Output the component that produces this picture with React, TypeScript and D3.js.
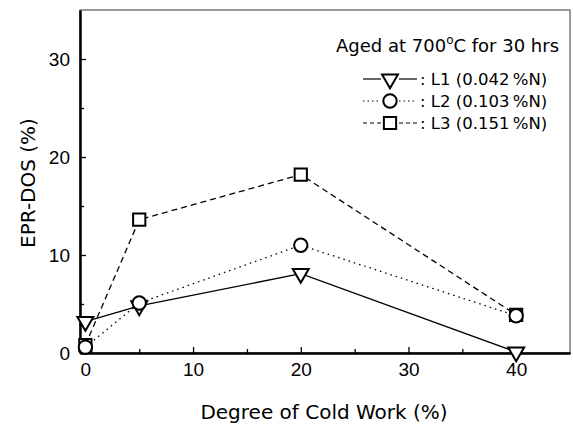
import * as d3 from "d3";
import { useEffect, useRef } from "react";

// cold work (%) and EPR-DOS (%)
const coldWork = [0, 5, 20, 40];
const dosL1 = [3.2, 4.8, 8.1, 0.1];
const dosL2 = [0.6, 5.1, 11.0, 3.8];
const dosL3 = [0.8, 13.6, 18.2, 3.9];

const seriesNames = ["L1 (0.042\u2009%N)", "L2 (0.103\u2009%N)", "L3 (0.151\u2009%N)"];
const xTicks = [0, 10, 20, 30, 40];
const yTicks = [0, 10, 20, 30];

const W = 573;
const H = 426;
const margin = { top: 10, right: 3, bottom: 73, left: 80 };

const App = () => {
  const ref = useRef<SVGSVGElement>(null);

  useEffect(() => {
    const svg = d3.select(ref.current);
    svg.selectAll("*").remove();

    const x = d3.scaleLinear().domain([-0.5, 45]).range([margin.left, W - margin.right]);
    const y = d3.scaleLinear().domain([0, 35]).range([H - margin.bottom, margin.top]);

    const numFont = "'Liberation Sans', Arial, sans-serif";
    const txtFont = "'DejaVu Sans', Verdana, sans-serif";

    // frame: top/right thin
    svg.append("rect")
      .attr("x", x(-0.5)).attr("y", y(35))
      .attr("width", x(45) - x(-0.5)).attr("height", y(0) - y(35))
      .attr("fill", "none").attr("stroke", "#333").attr("stroke-width", 1);

    // x axis (ticks inward)
    const xAxis = svg.append("g").attr("transform", `translate(0,${y(0)})`)
      .call(d3.axisBottom(x).tickValues(xTicks).tickSize(-6).tickSizeOuter(0).tickPadding(10));
    xAxis.append("g")
      .call(d3.axisBottom(x).tickValues([5, 15, 25, 35]).tickSize(-4).tickSizeOuter(0).tickFormat(() => ""));
    xAxis.selectAll(".domain").attr("stroke", "#000").attr("stroke-width", 2);
    xAxis.selectAll("line").attr("stroke-width", 1.3);
    xAxis.selectAll("text").attr("font-family", numFont).attr("font-size", 19).attr("fill", "#000");

    const yAxis = svg.append("g").attr("transform", `translate(${x(-0.5)},0)`)
      .call(d3.axisLeft(y).tickValues(yTicks).tickSize(-6).tickSizeOuter(0).tickPadding(10));
    yAxis.append("g")
      .call(d3.axisLeft(y).tickValues([5, 15, 25]).tickSize(-4).tickSizeOuter(0).tickFormat(() => ""));
    yAxis.selectAll(".domain").attr("stroke", "#000").attr("stroke-width", 2);
    yAxis.selectAll("line").attr("stroke-width", 1.3);
    yAxis.selectAll("text").attr("font-family", numFont).attr("font-size", 19).attr("fill", "#000");

    // axis titles
    svg.append("text")
      .attr("x", 324).attr("y", 419)
      .attr("text-anchor", "middle")
      .attr("font-family", txtFont).attr("font-size", 20)
      .text("Degree of Cold Work (%)");
    svg.append("text")
      .attr("transform", `translate(35,183) rotate(-90)`)
      .attr("text-anchor", "middle")
      .attr("font-family", txtFont).attr("font-size", 20)
      .text("EPR-DOS (%)");

    const line = d3.line<number>()
      .x((_, i) => x(coldWork[i]))
      .y(d => y(d));

    const tri = d3.symbol().type(d3.symbolTriangle).size(110);
    const sq = d3.symbol().type(d3.symbolSquare).size(150);
    const circ = d3.symbol().type(d3.symbolCircle).size(140);

    const series = [
      { vals: dosL3, dash: "6,4", sym: sq, rot: 0 },
      { vals: dosL1, dash: null, sym: tri, rot: 180 },
      { vals: dosL2, dash: "1.5,4", sym: circ, rot: 0 },
    ];

    series.forEach(s => {
      const p = svg.append("path")
        .attr("d", line(s.vals))
        .attr("fill", "none").attr("stroke", "#000").attr("stroke-width", 1.3);
      if (s.dash) p.attr("stroke-dasharray", s.dash);
    });
    series.forEach(s => {
      svg.selectAll(null)
        .data(s.vals)
        .enter()
        .append("path")
        .attr("d", s.sym as any)
        .attr("transform", (d, i) => `translate(${x(coldWork[i])},${y(d)}) rotate(${s.rot})`)
        .attr("fill", "#fff").attr("stroke", "#000").attr("stroke-width", 2);
    });

    // legend
    const title = svg.append("text")
      .attr("x", 336).attr("y", 52)
      .attr("font-family", txtFont).attr("font-size", 18);
    title.append("tspan").text("Aged at 700");
    title.append("tspan").attr("dy", -8).attr("font-size", 12).text("o");
    title.append("tspan").attr("dy", 8).text("C for 30 hrs");

    const legendItems = [
      { dash: null, sym: tri, rot: 180 },
      { dash: "1.5,3", sym: circ, rot: 0 },
      { dash: "4,3", sym: sq, rot: 0 },
    ];
    legendItems.forEach((it, i) => {
      const cy = 79 + i * 22;
      [[363, 381], [399, 417]].forEach(([a, b]) => {
        const l = svg.append("line")
          .attr("x1", a).attr("x2", b).attr("y1", cy).attr("y2", cy)
          .attr("stroke", "#000").attr("stroke-width", 1.2);
        if (it.dash) l.attr("stroke-dasharray", it.dash);
      });
      svg.append("path")
        .attr("d", it.sym as any)
        .attr("transform", `translate(390,${cy}) rotate(${it.rot})`)
        .attr("fill", "#fff").attr("stroke", "#000").attr("stroke-width", 2);
      svg.append("text")
        .attr("x", 420).attr("y", cy + 6)
        .attr("font-family", txtFont).attr("font-size", 16.5)
        .text(": " + seriesNames[i]);
    });
  }, []);

  return (
    <div style={{ position: "absolute", left: 0, top: 0 }}>
      <svg ref={ref} width={W} height={H} style={{ display: "block", background: "#fff" }} />
    </div>
  );
};

export default App;
